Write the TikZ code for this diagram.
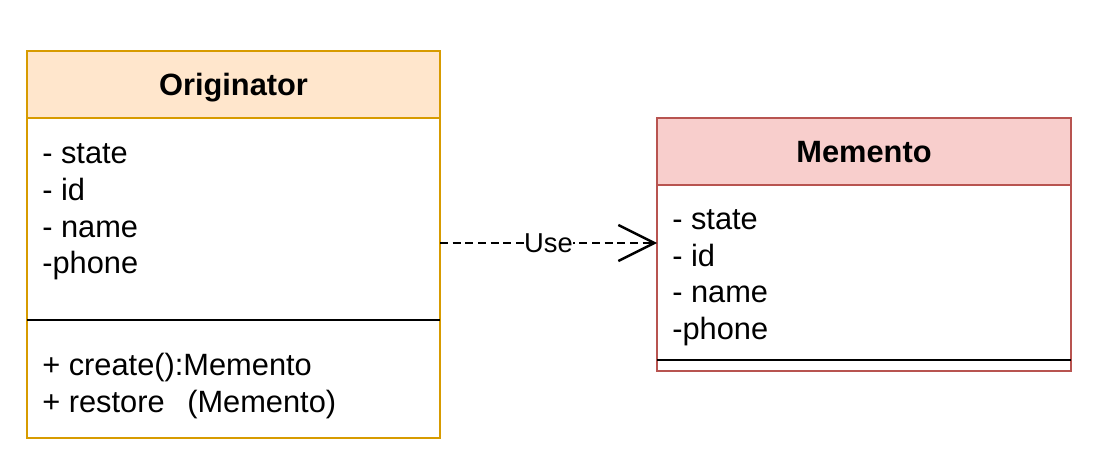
\documentclass[tikz,border=0pt]{standalone}
\usepackage{fontspec}
\setmainfont{Liberation Sans}
\usetikzlibrary{positioning,arrows.meta}
\definecolor{origline}{HTML}{D79B00}
\definecolor{origfill}{HTML}{FFE6CC}
\definecolor{memline}{HTML}{B85450}
\definecolor{memfill}{HTML}{F8CECC}
\tikzset{
  usearrow/.style={-{Straight Barb[length=27pt, width=27pt, line width=1.8pt]}, line width=1.8pt, dash pattern=on 6pt off 3.5pt},
  orighead/.style={draw=origline, fill=origfill, line width=1.6pt, minimum width=309.75pt, minimum height=50.25pt, outer sep=0pt, font=\bfseries\fontsize{23.1}{27}\selectfont, text height=16.5pt, text depth=0pt},
  origbody/.style={draw=origline, fill=white, line width=1.6pt, minimum width=309.75pt, minimum height=240pt, outer sep=0pt},
  memhead/.style={draw=memline, fill=memfill, line width=1.6pt, minimum width=310.5pt, minimum height=50.25pt, outer sep=0pt, font=\bfseries\fontsize{23.1}{27}\selectfont, text height=16.5pt, text depth=0pt},
  membody/.style={draw=memline, fill=white, line width=1.6pt, minimum width=310.5pt, minimum height=139.5pt, outer sep=0pt},
  divider/.style={draw=black, line width=2pt},
  member/.style={inner sep=0pt, anchor=base west, font=\fontsize{23.1}{27}\selectfont},
  uselabel/.style={fill=white, inner sep=0.5pt, font=\fontsize{20.5}{24}\selectfont}
}
\begin{document}
\begin{tikzpicture}[x=0.75pt, y=-0.75pt]
  \useasboundingbox (0,0) rectangle (1109,474);
  % Originator class
  \node[orighead] (orig) at (233.5,84.5) {Originator};
  \node[origbody, below=0pt of orig] (origbody) {};
  \coordinate (origcut) at (0,320);
  \draw[divider] (origbody.west |- origcut) -- (origbody.east |- origcut);
  \foreach \t [count=\i] in {- state,- id,- name,-phone}
    \node[member] (oattr\i) at (42,{164+36.5*(\i-1)}) {\t};
  \node[member] (omethod1) at (42,375) {+ create():Memento};
  \node[member] (omethod2) at (42,412) {+ restore\hspace{17pt}(Memento)};
  % Memento class
  \node[memhead] (mem) at (864,151.5) {Memento};
  \node[membody, below=0pt of mem] (membody) {};
  \coordinate (memcut) at (0,360);
  \draw[divider] (membody.west |- memcut) -- (membody.east |- memcut);
  \foreach \t [count=\i] in {- state,- id,- name,-phone}
    \node[member] (mattr\i) at (672,{229.5+36.5*(\i-1)}) {\t};
  % dependency
  \coordinate (uselevel) at (0,243);
  \draw[usearrow] (origbody.east |- uselevel) -- (membody.west |- uselevel)
    node[uselabel, midway] (use) {Use};
\end{tikzpicture}
\end{document}
